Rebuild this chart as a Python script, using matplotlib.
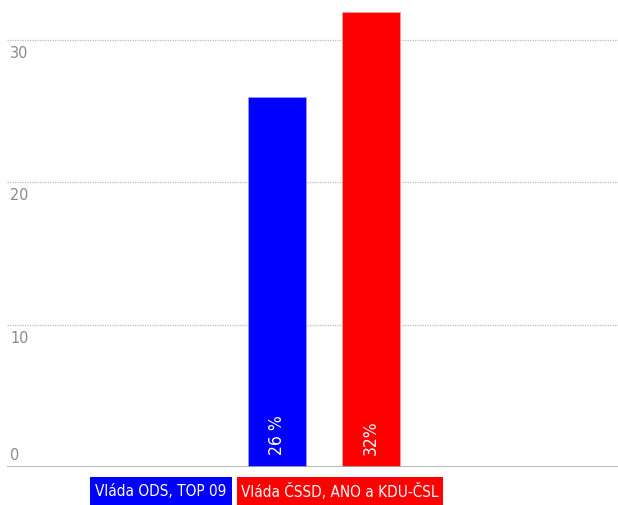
import matplotlib
matplotlib.use("Agg")
import matplotlib.pyplot as plt
from matplotlib.patches import Rectangle

categories = ["Vláda ODS, TOP 09", "Vláda ČSSD, ANO a KDU-ČSL"]
values = [26, 32]
bar_labels = ["26 %", "32%"]
colors = ["#0000ff", "#ff0000"]
yticks = [0, 10, 20, 30]

plt.rcParams["font.family"] = ["DejaVu Sans"]
plt.rcParams["font.stretch"] = "condensed"

fig = plt.figure(figsize=(6.18, 5.06), dpi=100)
ax = fig.add_axes([7/618, 38/506, 611/618, 468/506])
ax.set_ylim(0, 468/14.23)
ax.set_xlim(-270/94, -270/94 + 611/94)

xs = list(range(len(values)))
ax.bar(xs, values, width=58/94, color=colors, edgecolor=["#9999ff", "#ff9999"], linewidth=0.6, zorder=3)

for y in yticks[1:]:
    ax.axhline(y, color="#bbbbbb", linestyle=(0, (1, 1)), linewidth=0.9, zorder=1)
ax.axhline(0, color="#aaaaaa", linewidth=1.2, zorder=4)

for y in yticks:
    if y == 0:
        ax.text(0.005, y + 0.35, str(y), transform=ax.get_yaxis_transform(), ha="left", va="bottom",
                color="#8a8a8a", fontsize=11.5, fontstretch="condensed")
    else:
        ax.text(0.005, y - 0.35, str(y), transform=ax.get_yaxis_transform(), ha="left", va="top",
                color="#8a8a8a", fontsize=11.5, fontstretch="condensed")

for x, v, lab in zip(xs, values, bar_labels):
    ax.text(x, 0.9, lab, rotation=90, ha="center", va="bottom", color="white", fontsize=12.5,
            fontstretch="condensed", zorder=5)

for s in ax.spines.values():
    s.set_visible(False)
ax.set_xticks([])
ax.set_yticks([])

# category labels as coloured boxes below the axis
boxes = [(90, 232), (237, 443)]
for (x0, x1), cat, c in zip(boxes, categories, colors):
    fig.patches.append(Rectangle((x0/618, 0), (x1 - x0)/618, 28/506, transform=fig.transFigure,
                                 facecolor=c, edgecolor="none"))
    fig.text((x0 + x1)/2/618, 14/506, cat, ha="center", va="center", color="white", fontsize=11,
             fontstretch="condensed")

fig.savefig("out.png", dpi=100)
